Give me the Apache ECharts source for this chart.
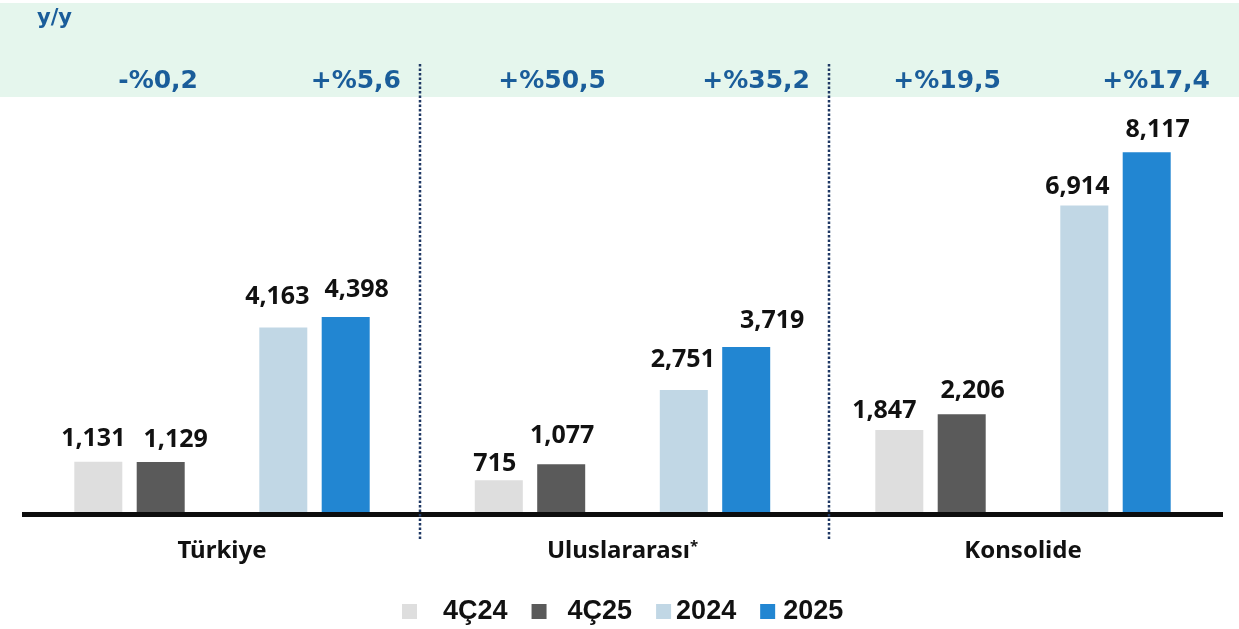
<!DOCTYPE html>
<html>
<head>
<meta charset="utf-8">
<script src="https://cdn.jsdelivr.net/npm/echarts@6/dist/echarts.min.js"></script>
<style>
  html, body { margin: 0; padding: 0; background: #fff; }
  #main { width: 1239px; height: 629px; }
</style>
</head>
<body>
<div id="main"></div>
<script>
// regions (one grid each)
var regions = ["Türkiye", "Uluslararası", "Konsolide"];
var regionStar = [false, true, false];

// quarter and full-year values per region
var q4_24 = [1131, 715, 1847];
var q4_25 = [1129, 1077, 2206];
var fy2024 = [4163, 2751, 6914];
var fy2025 = [4398, 3719, 8117];

// y/y growth labels, two per region (quarter, year)
var yoy = ["-%0,2", "+%5,6", "+%50,5", "+%35,2", "+%19,5", "+%17,4"];
var legendNames = ["4Ç24", "4Ç25", "2024", "2025"];

var colors = {
  "4Ç24": "#dedede",
  "4Ç25": "#5a5a5a",
  "2024": "#c1d7e5",
  "2025": "#2286d2"
};

// small label nudges [dx, dy] as placed on the slide
var labelShift = {
  "4Ç24": [[-5, 2], [-4, 8], [-15, 5]],
  "4Ç25": [[15, 2], [1, -4], [11, 1]],
  "2024": [[-6, -6], [-1, -6], [-7, 6]],
  "2025": [[11, -3], [26, -2], [11, 2]]
};

var blue = "#1a5d9a";
var labelFont = "'Noto Sans', sans-serif";

var chartDom = document.getElementById("main");
var myChart = echarts.init(chartDom);

var grids = [], xAxes = [], yAxes = [], series = [];
regions.forEach(function (name, i) {
  grids.push({ left: 37 + i * 400.5, width: 370, top: 113, bottom: 117 });
  xAxes.push({
    type: "category",
    gridIndex: i,
    data: ["q", "y"],
    axisLine: { show: false },
    axisTick: { show: false },
    axisLabel: { show: false },
    name: regionStar[i] ? "{n|" + name + "}{s|*}" : name,
    nameLocation: "middle",
    nameGap: 27,
    nameTextStyle: {
      fontFamily: labelFont,
      fontWeight: "bold",
      fontSize: 24,
      color: "#111",
      rich: {
        n: { fontFamily: labelFont, fontWeight: "bold", fontSize: 24, color: "#111" },
        s: { fontFamily: labelFont, fontWeight: "bold", fontSize: 15, color: "#111", verticalAlign: "top", padding: [0, 0, 10, 0] }
      }
    }
  });
  yAxes.push({
    type: "value",
    gridIndex: i,
    min: 0,
    max: 9000,
    show: false,
    splitLine: { show: false }
  });

  var rows = [
    ["4Ç24", "a", [q4_24[i], "-"]],
    ["4Ç25", "b", [q4_25[i], "-"]],
    ["2024", "a", ["-", fy2024[i]]],
    ["2025", "b", ["-", fy2025[i]]]
  ];
  rows.forEach(function (r) {
    series.push({
      name: r[0],
      type: "bar",
      xAxisIndex: i,
      yAxisIndex: i,
      stack: "g" + i + r[1],
      data: r[2],
      barWidth: 48,
      barGap: "30%",
      itemStyle: { color: colors[r[0]] },
      label: {
        show: true,
        position: "top",
        distance: 12,
        offset: labelShift[r[0]][i],
        fontFamily: labelFont,
        fontWeight: "bold",
        fontSize: 25,
        color: "#111",
        formatter: function (p) {
          return p.value.toLocaleString("en-US");
        }
      }
    });
  });
});

// y/y text positions (right edges) in the band
var yoyRight = [198, 401, 606, 810, 1001, 1210];

var graphics = [
  { type: "rect", z: -10, shape: { x: 0, y: 3, width: 1239, height: 94 }, style: { fill: "#e5f6ed" } },
  { type: "text", left: 37, top: 8, style: { text: "y/y", fill: blue, font: "bold 21px 'DejaVu Sans'" } },
  { type: "line", z: 10, shape: { x1: 22, y1: 514.5, x2: 1223, y2: 514.5 }, style: { stroke: "#0d0d0d", lineWidth: 5 } },
  { type: "line", z: 10, shape: { x1: 420, y1: 64, x2: 420, y2: 540 }, style: { stroke: "#1f3864", lineWidth: 2.5, lineDash: [2.5, 2] } },
  { type: "line", z: 10, shape: { x1: 829, y1: 64, x2: 829, y2: 540 }, style: { stroke: "#1f3864", lineWidth: 2.5, lineDash: [2.5, 2] } }
];
yoy.forEach(function (t, k) {
  graphics.push({
    type: "text",
    z: 5,
    x: yoyRight[k],
    y: 81,
    style: {
      text: t,
      fill: blue,
      font: "bold 25px 'DejaVu Sans'",
      textAlign: "right",
      textVerticalAlign: "middle"
    }
  });
});

var legendPad = [[0, 0, 0, 21], [0, 0, 0, 16], [0, 19, 0, 0], [0, 0, 0, 3]];

var option = {
  animation: false,
  grid: grids,
  xAxis: xAxes,
  yAxis: yAxes,
  series: series,
  graphic: graphics,
  legend: {
    left: 402,
    top: 598,
    padding: 0,
    itemWidth: 15,
    itemHeight: 15,
    itemGap: 24,
    icon: "rect",
    data: legendNames.map(function (n, k) {
      return { name: n, textStyle: { padding: legendPad[k] } };
    }),
    textStyle: {
      fontFamily: "'Liberation Sans', Arial, sans-serif",
      fontWeight: "bold",
      fontSize: 27,
      color: "#111"
    }
  }
};

option && myChart.setOption(option);
</script>
</body>
</html>
